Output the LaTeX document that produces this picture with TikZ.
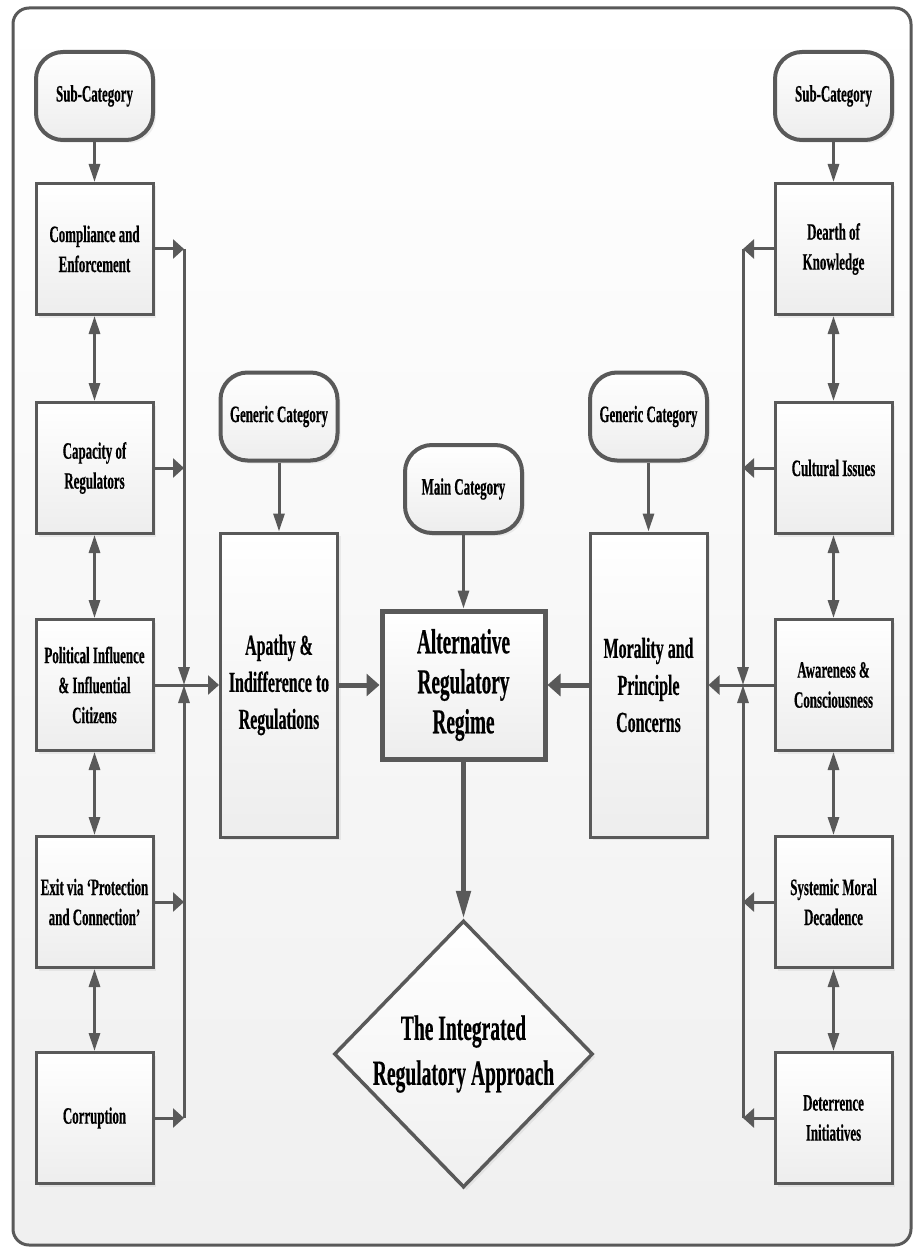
\documentclass[tikz,border=0pt]{standalone}
\usepackage{fontspec}
\setmainfont{Liberation Serif}[FakeStretch=0.55,FakeBold=0.4]
\usepackage{tikz}
\usetikzlibrary{arrows.meta,shapes.geometric,shadows}
\definecolor{lineg}{RGB}{89,89,89}

\tikzset{
  catbox/.style={draw=lineg, line width=3pt, top color=white, bottom color=black!7,
    minimum width=117pt, minimum height=131pt, inner sep=0pt, align=center,
    font=\fontsize{23.5}{30}\selectfont\bfseries,
    drop shadow={opacity=0.12, shadow xshift=3pt, shadow yshift=-3pt}},
  tallbox/.style={catbox, minimum height=304pt, font=\fontsize{29}{37}\selectfont\bfseries},
  mainbox/.style={catbox, line width=5pt, minimum width=163pt, minimum height=148pt,
    font=\fontsize{35}{40}\selectfont\bfseries},
  term/.style={catbox, rounded corners=27pt, line width=4pt, minimum height=88pt},
  goal/.style={diamond, draw=lineg, line width=3.5pt, top color=white, bottom color=black!6,
    minimum width=256pt, minimum height=267pt, inner sep=0pt, align=center,
    font=\fontsize{35.5}{45}\selectfont\bfseries,
    drop shadow={opacity=0.12, shadow xshift=3pt, shadow yshift=-3pt}},
  link/.style={draw=lineg, line width=3pt},
  harr/.style={link, -{Triangle[length=11pt,width=19pt]}},
  varr/.style={link, -{Triangle[length=18pt,width=11pt]}},
  both/.style={link, {Triangle[length=18pt,width=11pt]}-{Triangle[length=18pt,width=11pt]}},
  thkh/.style={link, line width=5pt, -{Triangle[length=13pt,width=22pt]}},
  thkv/.style={link, line width=5pt, -{Triangle[length=28pt,width=14pt]}}
}

\begin{document}
\begin{tikzpicture}[x=1pt,y=-1pt]
\useasboundingbox (0,0) rectangle (914,1249);
\draw[lineg, line width=3pt, rounded corners=16pt, top color=white, bottom color=black!6] (13,8) rectangle (911,1245);

\coordinate (lbus) at (184,0);
\coordinate (rbus) at (743,0);

\node[term] (subl) at (94.5,96) {Sub-Category};
\node[catbox] (comp) at (94.5,249) {Compliance and\\Enforcement};
\node[catbox] (capa) at (94.5,468) {Capacity of\\Regulators};
\node[catbox] (poli) at (94.5,685) {Political Influence\\\& Influential\\Citizens};
\node[catbox] (exit) at (94.5,902) {Exit via ‘Protection\\and Connection’};
\node[catbox] (corr) at (94.5,1118) {Corruption};

\node[term] (genl) at (279,416.5) {Generic Category};
\node[tallbox] (apat) at (279,685) {Apathy \&\\Indifference to\\Regulations};

\node[term] (mainc) at (463.5,489) {Main Category};
\node[mainbox] (alt) at (463.5,685) {Alternative\\Regulatory\\Regime};
\node[goal] (tira) at (463.5,1054) {The Integrated\\Regulatory Approach};

\node[term] (genr) at (648.5,416.5) {Generic Category};
\node[tallbox] (mora) at (648.5,685) {Morality and\\Principle\\Concerns};

\node[term] (subr) at (833.5,96) {Sub-Category};
\node[catbox] (dear) at (833.5,249) {Dearth of\\Knowledge};
\node[catbox] (cult) at (833.5,468) {Cultural Issues};
\node[catbox] (awar) at (833.5,685) {Awareness \&\\Consciousness};
\node[catbox] (syst) at (833.5,902) {Systemic Moral\\Decadence};
\node[catbox] (dete) at (833.5,1118) {Deterrence\\Initiatives};

\draw[varr] (subl) -- (comp);
\draw[both] (comp) -- (capa);
\draw[both] (capa) -- (poli);
\draw[both] (poli) -- (exit);
\draw[both] (exit) -- (corr);
\draw[harr] (comp.east) -- (comp.east -| lbus);
\draw[harr] (capa.east) -- (capa.east -| lbus);
\draw[harr] (exit.east) -- (exit.east -| lbus);
\draw[harr] (corr.east) -- (corr.east -| lbus);
\draw[varr] (comp.east -| lbus) -- (poli.east -| lbus);
\draw[varr] (corr.east -| lbus) -- (poli.east -| lbus);
\draw[harr] (poli) -- (apat);

\draw[varr] (genl) -- (apat);
\draw[varr] (mainc) -- (alt);
\draw[varr] (genr) -- (mora);
\draw[thkh] (apat) -- (alt);
\draw[thkh] (mora) -- (alt);
\draw[thkv] (alt) -- (tira);

\draw[varr] (subr) -- (dear);
\draw[both] (dear) -- (cult);
\draw[both] (cult) -- (awar);
\draw[both] (awar) -- (syst);
\draw[both] (syst) -- (dete);
\draw[harr] (dear.west) -- (dear.west -| rbus);
\draw[harr] (cult.west) -- (cult.west -| rbus);
\draw[harr] (syst.west) -- (syst.west -| rbus);
\draw[harr] (dete.west) -- (dete.west -| rbus);
\draw[varr] (dear.west -| rbus) -- (awar.west -| rbus);
\draw[varr] (dete.west -| rbus) -- (awar.west -| rbus);
\draw[harr] (awar) -- (mora);
\end{tikzpicture}
\end{document}
